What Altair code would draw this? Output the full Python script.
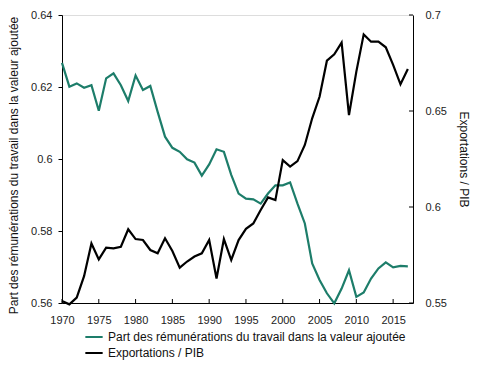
import altair as alt
import pandas as pd

years = list(range(1970, 2018))
labour_share = [
    0.6267, 0.6201, 0.6210, 0.6198, 0.6205, 0.6134, 0.6224, 0.6238, 0.6205, 0.6161,
    0.6232, 0.6192, 0.6203, 0.6131, 0.6062, 0.6031, 0.6020, 0.5999, 0.5990, 0.5954,
    0.5985, 0.6027, 0.6020, 0.5956, 0.5904, 0.5890, 0.5888, 0.5876, 0.5904, 0.5927,
    0.5927, 0.5935, 0.5876, 0.5821, 0.5710, 0.5664, 0.5627, 0.5599, 0.5640, 0.5691,
    0.5617, 0.5629, 0.5668, 0.5696, 0.5713, 0.5699, 0.5703, 0.5702,
]
exports_gdp = [
    0.5510, 0.5493, 0.5528, 0.5640, 0.5810, 0.5727, 0.5788, 0.5785, 0.5793, 0.5884,
    0.5833, 0.5828, 0.5776, 0.5759, 0.5837, 0.5771, 0.5684, 0.5716, 0.5742, 0.5759,
    0.5828, 0.5628, 0.5833, 0.5724, 0.5828, 0.5886, 0.5914, 0.5984, 0.6050, 0.6036,
    0.6244, 0.6210, 0.6239, 0.6323, 0.6462, 0.6574, 0.6762, 0.6795, 0.6856, 0.6479,
    0.6705, 0.6899, 0.6861, 0.6861, 0.6832, 0.6740, 0.6639, 0.6719,
]
x_ticks = [1970, 1975, 1980, 1985, 1990, 1995, 2000, 2005, 2010, 2015]
left_ticks = [0.56, 0.58, 0.60, 0.62, 0.64]
right_ticks = [0.55, 0.60, 0.65, 0.70]

s1 = "Part des rémunérations du travail dans la valeur ajoutée"
s2 = "Exportations / PIB"

df = pd.DataFrame({"year": years, s1: labour_share, s2: exports_gdp})
long = df.melt("year", var_name="serie", value_name="value")

W, H = 351, 288
FONT = "Liberation Sans"
GREEN = "#1d7d6a"

xscale = alt.Scale(domain=[1970, 2017.7], nice=False, zero=False)
lscale = alt.Scale(domain=[0.56, 0.64], nice=False, zero=False)
rscale = alt.Scale(domain=[0.55, 0.70], nice=False, zero=False)

color = alt.Color(
    "serie:N",
    scale=alt.Scale(domain=[s1, s2], range=[GREEN, "#000000"]),
    legend=alt.Legend(
        orient="none", legendX=22, legendY=312, title=None, direction="vertical",
        symbolType="stroke", symbolStrokeWidth=2, symbolSize=300,
        labelFont=FONT, labelFontSize=12, labelColor="#111", rowPadding=-3,
        labelOffset=4, labelLimit=400,
    ),
)

xaxis = alt.Axis(values=x_ticks, format="d", title=None, ticks=False, tickSize=0,
                 labelPadding=11, labelFlush=False, labelFont=FONT, labelFontSize=11,
                 labelColor="#222", domainColor="#000", grid=False)

base = alt.Chart(long)

left = base.transform_filter(alt.datum.serie == s1).mark_line(strokeWidth=2.2).encode(
    x=alt.X("year:Q", scale=xscale, axis=xaxis),
    y=alt.Y("value:Q", scale=lscale,
            axis=alt.Axis(values=left_ticks, format="~g", title=s1, orient="left",
                          tickSize=4, tickColor="#000", labelPadding=6,
                          labelFont=FONT, labelFontSize=11, labelColor="#222",
                          titleFont=FONT, titleFontSize=12, titleFontWeight="normal",
                          titleColor="#111", titlePadding=10, titleY=150,
                          domainColor="#000", grid=False)),
    color=color,
)

right = base.transform_filter(alt.datum.serie == s2).mark_line(strokeWidth=2.2).encode(
    x=alt.X("year:Q", scale=xscale, axis=xaxis),
    y=alt.Y("value:Q", scale=rscale,
            axis=alt.Axis(values=right_ticks, format="~g", title=s2, orient="right",
                          ticks=False, tickSize=0, labelPadding=12,
                          labelFont=FONT, labelFontSize=11, labelColor="#222",
                          titleFont=FONT, titleFontSize=12, titleFontWeight="normal",
                          titleColor="#111", titlePadding=10, domainColor="#000", grid=False)),
    color=color,
)

xt = alt.Chart(pd.DataFrame({"year": x_ticks})).mark_rule(color="#000", strokeWidth=1).encode(
    x=alt.X("year:Q", scale=xscale, axis=xaxis),
    y=alt.value(H - 4), y2=alt.value(H),
)

rt = alt.Chart(pd.DataFrame({"v": right_ticks})).mark_rule(color="#000", strokeWidth=1).encode(
    y=alt.Y("v:Q", scale=rscale, axis=None),
    x=alt.value(W - 4), x2=alt.value(W),
)

chart = alt.layer(left, right, xt, rt).resolve_scale(y="independent").properties(
    width=W, height=H,
    autosize=alt.AutoSizeParams(type="none"),
    padding={"left": 54, "top": 7, "right": 59, "bottom": 58},
).configure_view(stroke=None).configure(background="white")

chart.save("out.html", embed_options={"renderer": "svg", "actions": False})
